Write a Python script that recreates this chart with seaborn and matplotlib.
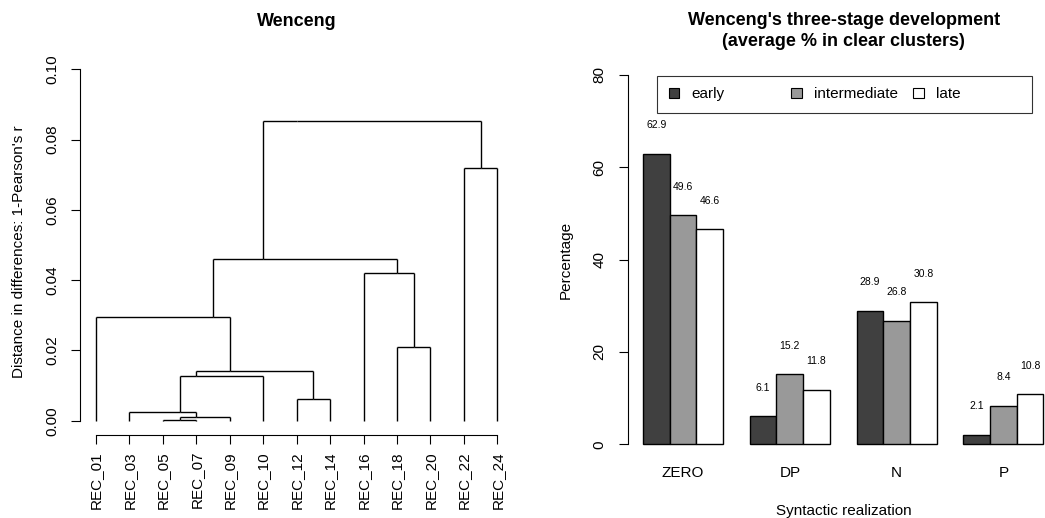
import numpy as np
import pandas as pd
import matplotlib
matplotlib.use("Agg")
import matplotlib.pyplot as plt
from matplotlib.patches import Patch
from matplotlib.transforms import Bbox
import seaborn as sns

# ---------------- data ----------------
leaves = ["REC_01", "REC_03", "REC_05", "REC_07", "REC_09", "REC_10", "REC_12",
          "REC_14", "REC_16", "REC_18", "REC_20", "REC_22", "REC_24"]
# R-style merge matrix (negative = leaf index in plotted order, positive = earlier merge)
merge_left = [-3, 1, -2, 3, -7, 4, -1, -10, -9, 7, -12, 10]
merge_right = [-4, -5, 2, -6, -8, 5, 6, -11, 8, 9, -13, 11]
merge_height = [0.0003, 0.0010, 0.0024, 0.0128, 0.0061, 0.0141, 0.0294,
                0.0209, 0.0421, 0.0461, 0.0718, 0.0853]
dist_ticks = [0.00, 0.02, 0.04, 0.06, 0.08, 0.10]

categories = ["ZERO", "DP", "N", "P"]
stages = ["early", "intermediate", "late"]
early = [62.9, 6.1, 28.9, 2.1]
intermediate = [49.6, 15.2, 26.8, 8.4]
late = [46.6, 11.8, 30.8, 10.8]
pct_ticks = [0, 20, 40, 60, 80]

# ---------------- style ----------------
sns.set_style("ticks")
plt.rcParams["font.family"] = ["Liberation Sans", "DejaVu Sans"]
plt.rcParams["axes.linewidth"] = 0.8
plt.rcParams["text.color"] = "black"
plt.rcParams["axes.labelcolor"] = "black"
plt.rcParams["xtick.color"] = "black"
plt.rcParams["ytick.color"] = "black"
plt.rcParams["axes.edgecolor"] = "black"

W, H = 1045, 518
fig = plt.figure(figsize=(W / 100, H / 100), dpi=100)

# ---------------- dendrogram ----------------
ax1 = fig.add_axes([80 / W, (H - 435) / H, 434 / W, 365.7 / H])


def node_info(ref, info):
    if ref < 0:
        k = -ref
        return (float(k), k, k, 0.0)
    return info[ref - 1]


info = []
segs = []
for l, r, h in zip(merge_left, merge_right, merge_height):
    li = node_info(l, info)
    ri = node_info(r, info)
    lo = min(li[1], ri[1])
    hi = max(li[2], ri[2])
    x = (lo + hi) / 2.0  # centred over its leaf range
    for child in (li, ri):
        segs.append(([x, child[0]], [h, h]))
        segs.append(([child[0], child[0]], [h, child[3]]))
    info.append((x, lo, hi, h))

for xs, ys in segs:
    ax1.plot(xs, ys, color="black", lw=1.0, solid_capstyle="butt")

ax1.set_xlim(0.52, 13.5)
ax1.set_ylim(-0.00407, 0.10)
sns.despine(ax=ax1)
ax1.spines["left"].set_bounds(0, 0.10)
ax1.spines["bottom"].set_bounds(1, len(leaves))
ax1.set_yticks(dist_ticks)
ax1.set_yticklabels([f"{t:.2f}" for t in dist_ticks], rotation=90, va="center")
ax1.set_xticks(np.arange(1, len(leaves) + 1))
ax1.set_xticklabels(leaves, rotation=90)
ax1.tick_params(axis="both", direction="out", length=6.5, width=0.8, labelsize=11)
ax1.tick_params(axis="y", pad=8)
ax1.tick_params(axis="x", pad=5)
ax1.set_ylabel("Distance in differences: 1-Pearson's r", fontsize=11, labelpad=14)
ax1.set_title("Wenceng", fontsize=13, fontweight="bold", pad=31)

# ---------------- bar chart ----------------
ax2 = fig.add_axes([627.7 / W, (H - 459.1) / H, 432.3 / W, 398.9 / H])
df = pd.DataFrame({
    "category": categories * 3,
    "stage": [s for s in stages for _ in categories],
    "value": early + intermediate + late,
})
palette = {"early": "#404040", "intermediate": "#999999", "late": "#ffffff"}
sns.barplot(data=df, x="category", y="value", hue="stage", order=categories,
            hue_order=stages, palette=palette, width=0.75, saturation=1,
            edgecolor="black", linewidth=1.0, legend=False, ax=ax2, errorbar=None)
for cont in ax2.containers:
    ax2.bar_label(cont, fmt="%.1f", padding=17, fontsize=7.5)

ax2.set_xlim(-0.518, 3.53)
ax2.set_ylim(-3.2, 83.2)
sns.despine(ax=ax2, bottom=True)
ax2.spines["left"].set_bounds(0, 80)
ax2.set_yticks(pct_ticks)
ax2.set_yticklabels([str(t) for t in pct_ticks], rotation=90, va="center")
ax2.tick_params(axis="y", direction="out", length=6.5, width=0.8, labelsize=11, pad=9)
ax2.tick_params(axis="x", length=0, labelsize=11, pad=5)
ax2.set_xlabel("Syntactic realization", fontsize=11, labelpad=17)
ax2.set_ylabel("Percentage", fontsize=11, labelpad=14)
ax2.set_title("Wenceng's three-stage development\n(average % in clear clusters)",
              fontsize=13, fontweight="bold", pad=10, linespacing=1.35)

handles = [Patch(facecolor=palette[s], edgecolor="black", linewidth=0.8) for s in stages]
leg = ax2.legend(handles, stages, loc="upper left",
                 bbox_to_anchor=(0.0685, 0.9604), ncol=3,
                 fancybox=False, frameon=True, borderaxespad=0,
                 handlelength=0.7, handleheight=0.7, handletextpad=0.8,
                 columnspacing=1.0, borderpad=0.75, fontsize=11)
leg.get_frame().set_edgecolor("black")
leg.get_frame().set_linewidth(0.8)

# R-style horizontal legend: every column as wide as the widest label
try:
    fig.canvas.draw()
    rend = fig.canvas.get_renderer()
    text_areas = []
    for col in leg._legend_handle_box.get_children():
        for item in col.get_children():
            text_areas.append(item.get_children()[1])
    maxw = max(ta.get_bbox(rend).width for ta in text_areas)

    def make_bbox(orig):
        def gb(renderer):
            b = orig(renderer)
            return Bbox.from_bounds(b.x0, b.y0, maxw, b.height)
        return gb

    for ta in text_areas:
        ta.get_bbox = make_bbox(ta.get_bbox)
except Exception:
    pass

fig.savefig("out.png", dpi=100)
